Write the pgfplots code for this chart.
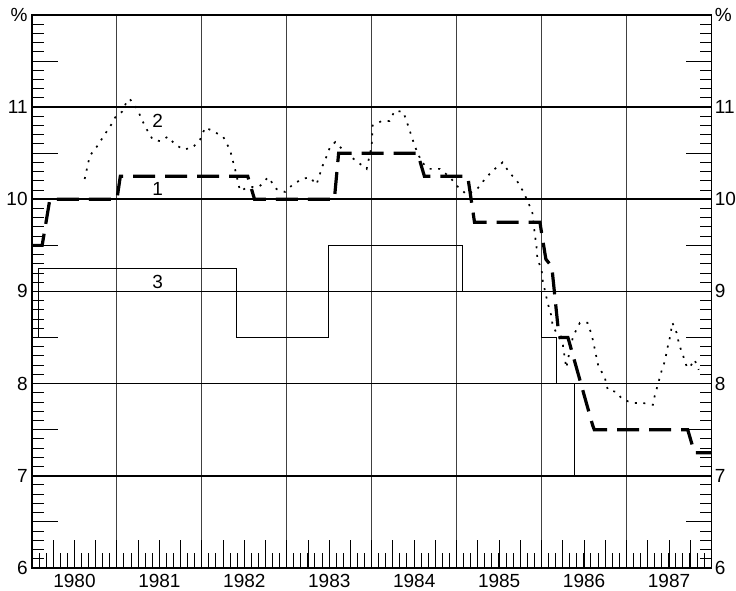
\documentclass[border=0pt]{standalone}
\usepackage{fontspec}
\setmainfont{Liberation Sans}
\usepackage{pgfplots}
\pgfplotsset{compat=1.18}
\begin{document}
\begin{tikzpicture}
\pgfplotsset{
  base/.style={
    at={(0,0)}, anchor=south west,
    scale only axis, width=339.8pt, height=276.5pt,
    xmin=1980, xmax=1988, ymin=6, ymax=12,
    /pgf/number format/assume math mode=true,
    tick label style={font=\fontsize{9.5}{11}\selectfont},
    tick style={black, line width=0.5pt},
    tick align=inside,
  }
}
% main axis: frame, x ticks, grid, data
\begin{axis}[
  base, name=ax,
  axis line style={line width=0.8pt},
  xtick pos=bottom, ytick pos=both,
  major tick length=14pt, minor tick length=7.5pt,
  xtick={1980.25,1980.5,1980.75,1981.25,1981.5,1981.75,1982.25,1982.5,1982.75,1983.25,1983.5,1983.75,1984.25,1984.5,1984.75,1985.25,1985.5,1985.75,1986.25,1986.5,1986.75,1987.25,1987.5,1987.75},
  xticklabels={,1980,,,1981,,,1982,,,1983,,,1984,,,1985,,,1986,,,1987,},
  xticklabel style={inner sep=0pt, yshift=-3pt, anchor=north},
  minor xtick={1980,1980.0833333,...,1988},
  ytick=\empty,
  extra x ticks={1981,1982,1983,1984,1985,1986,1987},
  extra x tick labels={},
  extra x tick style={grid=major, major grid style={black!75, line width=0.45pt}},
  extra y ticks={6,7,8,9,10,11,12},
  extra y tick labels={},
  extra y tick style={grid=major, major grid style={black, line width=0.8pt}},
]
% series 3 (thin solid)
\addplot[black, line width=0.55pt] coordinates {
(1980.0,8.5) (1980.08,8.5) (1980.08,9.25) (1982.41,9.25) (1982.41,8.5)
(1983.49,8.5) (1983.49,9.5) (1985.07,9.5) (1985.07,9.0) (1986.0,9.0)
(1986.0,8.5) (1986.18,8.5) (1986.18,8.0) (1986.39,8.0) (1986.39,7.0) (1988.0,7.0)
};
% series 2 (dotted)
\addplot[black, line width=0.85pt, dash pattern=on 1pt off 3.3pt] coordinates {
(1980.62,10.22) (1980.68,10.47) (1980.77,10.58) (1980.84,10.68) (1980.94,10.82)
(1980.98,10.89) (1981.06,10.95) (1981.11,11.05) (1981.15,11.09) (1981.24,10.98)
(1981.29,10.87) (1981.35,10.76) (1981.42,10.65) (1981.51,10.63) (1981.60,10.68)
(1981.68,10.60) (1981.78,10.54) (1981.89,10.56) (1981.98,10.65) (1982.04,10.78)
(1982.13,10.74) (1982.25,10.68) (1982.33,10.54) (1982.39,10.33) (1982.45,10.09)
(1982.54,10.13) (1982.68,10.14) (1982.78,10.24) (1982.88,10.11) (1982.98,10.08)
(1983.07,10.16) (1983.18,10.22) (1983.27,10.24) (1983.35,10.16) (1983.42,10.36)
(1983.47,10.47) (1983.51,10.57) (1983.57,10.62) (1983.70,10.50) (1983.84,10.40)
(1983.94,10.33) (1984.00,10.58) (1984.01,10.80) (1984.12,10.85) (1984.21,10.85)
(1984.27,10.96) (1984.37,10.95) (1984.41,10.85) (1984.47,10.68) (1984.51,10.57)
(1984.59,10.40) (1984.68,10.33) (1984.80,10.33) (1984.92,10.24) (1985.01,10.14)
(1985.12,10.05) (1985.24,10.11) (1985.35,10.24) (1985.45,10.33) (1985.54,10.40)
(1985.62,10.29) (1985.71,10.20) (1985.78,10.09) (1985.84,9.97) (1985.89,9.86)
(1985.92,9.62) (1985.94,9.49) (1985.95,9.35) (1986.00,9.24) (1986.01,9.13)
(1986.07,8.88) (1986.11,8.75) (1986.13,8.63) (1986.25,8.42) (1986.29,8.17)
(1986.33,8.35) (1986.37,8.51) (1986.45,8.66) (1986.54,8.66) (1986.59,8.53)
(1986.62,8.40) (1986.67,8.18) (1986.74,8.08) (1986.78,7.93) (1986.88,7.91)
(1986.95,7.83) (1987.07,7.79) (1987.19,7.79) (1987.31,7.77) (1987.33,7.86)
(1987.41,8.13) (1987.45,8.24) (1987.48,8.38) (1987.51,8.50) (1987.54,8.66)
(1987.59,8.55) (1987.62,8.42) (1987.66,8.32) (1987.71,8.18) (1987.74,8.17)
(1987.80,8.26) (1987.85,8.15)
};
% series 1 (thick dashed)
\addplot[black, line width=1.6pt, dash pattern=on 11pt off 5pt] coordinates {
(1980.0,9.5) (1980.12,9.5) (1980.21,10.0) (1981.0,10.0) (1981.04,10.25)
(1982.54,10.25) (1982.62,10.0) (1983.56,10.0) (1983.61,10.5) (1984.54,10.5)
(1984.62,10.25) (1985.13,10.25) (1985.21,9.75) (1985.98,9.75) (1986.05,9.35)
(1986.12,9.27) (1986.20,8.55) (1986.22,8.5) (1986.31,8.5) (1986.60,7.55)
(1986.62,7.5) (1987.72,7.5) (1987.80,7.25) (1988.0,7.25)
};
\node[font=\fontsize{9.5}{11}\selectfont] at (axis cs:1981.48,10.11) {1};
\node[font=\fontsize{9.5}{11}\selectfont] at (axis cs:1981.48,10.85) {2};
\node[font=\fontsize{9.5}{11}\selectfont] at (axis cs:1981.48,9.10) {3};
\end{axis}
% overlay axis: y ticks on both sides and left labels
\begin{axis}[
  base,
  hide x axis,
  axis line style={draw=none},
  ytick pos=both,
  major tick length=13pt, minor tick length=6pt,
  ytick={6.5,7.5,8.5,9.5,10.5,11.5},
  yticklabels={},
  minor ytick={6,6.1,...,12},
  extra y ticks={6,7,8,9,10,11,12},
  extra y tick labels={6,7,8,9,10,11,\%},
  yticklabel style={inner sep=0pt, xshift=-2pt},
]
\addplot[draw=none] coordinates {(1980,6)};
\end{axis}
% overlay axis: right labels
\begin{axis}[
  base,
  hide x axis,
  axis y line*=right,
  y axis line style={draw=none},
  ytick={6,7,8,9,10,11,12},
  yticklabels={6,7,8,9,10,11,\%},
  yticklabel style={inner sep=0pt, xshift=1.5pt},
  major tick length=0pt, minor tick length=0pt,
]
\addplot[draw=none] coordinates {(1980,6)};
\end{axis}
\path ([xshift=-16pt,yshift=-11.5pt]ax.south west) rectangle ([xshift=12.2pt,yshift=7.5pt]ax.north east);
\end{tikzpicture}
\end{document}
